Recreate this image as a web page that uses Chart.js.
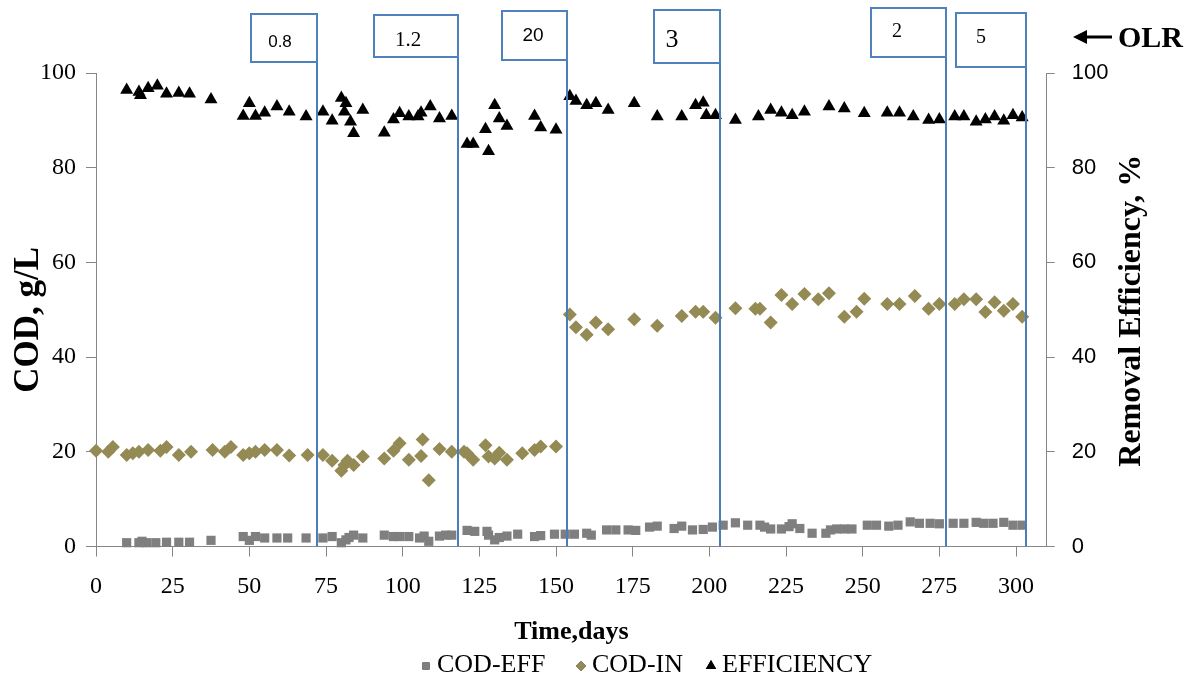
<!DOCTYPE html>
<html>
<head>
<meta charset="utf-8">
<script src="https://cdn.jsdelivr.net/npm/chart.js@4.4.1/dist/chart.umd.min.js"></script>
<style>
  html, body { margin: 0; padding: 0; background: #fff; }
  #wrap { width: 1188px; height: 684px; }
</style>
</head>
<body>
<div id="wrap"><canvas id="codChart" width="1188" height="684"></canvas></div>
<script>
// COD effluent, g/L
const effDays = [10, 14, 15, 16.5, 19.5, 23, 27, 30.5, 37.5, 48, 50, 52, 55, 59, 62.5, 68.5, 74, 77, 80, 81.5, 82.5, 84, 87, 94, 97, 99, 102, 105.5, 107, 108.5, 112, 114, 116, 121, 123.5, 127.5, 128, 130, 131.5, 134, 137.5, 143, 145, 149.5, 153, 156, 160, 161.5, 166.5, 169.5, 173.5, 176, 180.5, 183, 188.5, 191, 194.5, 198, 201, 204.5, 208.5, 212.5, 216.5, 218, 220, 223.5, 226, 227, 229.5, 233.5, 238, 239.5, 241.5, 244, 246.5, 251.5, 254.5, 258.5, 261.5, 265.5, 268.5, 272, 275, 279.5, 283, 287, 289.5, 292.5, 296, 299, 302];
const effCOD = [0.8, 0.8, 1.1, 0.8, 0.8, 0.9, 0.9, 0.9, 1.3, 2.1, 1.3, 2.1, 1.8, 1.8, 1.8, 1.8, 1.8, 2.1, 0.8, 1.4, 1.9, 2.4, 1.8, 2.4, 2.1, 2.1, 2.1, 1.8, 2.2, 1.1, 2.2, 2.4, 2.4, 3.4, 3.2, 3.2, 2.4, 1.4, 1.9, 2.2, 2.6, 2.1, 2.3, 2.6, 2.6, 2.6, 2.8, 2.4, 3.5, 3.5, 3.5, 3.4, 4.1, 4.3, 3.8, 4.3, 3.5, 3.6, 4.1, 4.5, 5.0, 4.5, 4.5, 4.1, 3.7, 3.7, 4.2, 4.8, 3.8, 2.8, 2.8, 3.5, 3.7, 3.7, 3.7, 4.5, 4.5, 4.3, 4.5, 5.2, 4.9, 4.9, 4.8, 4.9, 4.9, 5.1, 4.9, 4.9, 5.1, 4.5, 4.5];

// COD influent, g/L
const inDays = [0, 4, 5.5, 10, 12, 14, 17, 21, 23, 27, 31, 38, 42, 44, 48, 50, 52, 55, 59, 63, 69, 74, 77, 80, 81, 82, 84, 87, 94, 97, 99, 102, 106, 106.5, 108.5, 112, 116, 120, 121, 123, 127, 128, 130, 131.5, 134, 139, 143, 145, 150, 154.5, 156.5, 160, 163, 167, 175.5, 183, 191, 195.5, 198, 202, 208.5, 215, 216.5, 220, 223.5, 227, 231, 235.5, 239, 244, 248, 250.5, 258, 262, 267, 271.5, 275, 280, 283, 287, 290, 293, 296, 299, 302];
const inCOD = [20.2, 20.0, 21.0, 19.3, 19.7, 20.0, 20.4, 20.2, 21.0, 19.3, 20.0, 20.4, 20.0, 21.0, 19.3, 19.7, 20.0, 20.4, 20.4, 19.2, 19.3, 19.3, 18.1, 16.0, 17.2, 18.1, 17.2, 19.0, 18.6, 20.2, 21.8, 18.3, 19.1, 22.6, 14.0, 20.6, 20.0, 20.0, 19.7, 18.3, 21.4, 19.0, 18.6, 19.8, 18.3, 19.7, 20.4, 21.1, 21.1, 49.0, 46.3, 44.7, 47.3, 45.9, 48.0, 46.6, 48.7, 49.6, 49.6, 48.3, 50.3, 50.2, 50.2, 47.3, 53.1, 51.2, 53.3, 52.2, 53.5, 48.5, 49.6, 52.3, 51.2, 51.2, 52.9, 50.2, 51.2, 51.2, 52.2, 52.2, 49.5, 51.6, 49.8, 51.2, 48.5];

// removal efficiency, %
const eDays = [10, 14, 14.5, 17, 20, 23, 27, 30.5, 37.5, 48, 50, 52, 55, 59, 63, 68.5, 74, 77, 80, 81.5, 81, 83, 84, 87, 94, 97, 99, 102, 105, 106, 109, 112, 116, 121, 123, 127, 128, 130, 131.5, 134, 143, 145, 150, 154.5, 156.5, 160, 163, 167, 175.5, 183, 191, 195.5, 198, 199, 202, 208.5, 216, 220, 223.5, 227, 231, 239, 244, 250.5, 258, 262, 266.5, 271.5, 275, 280, 283, 287, 290, 293, 296, 299, 302];
const efficiency = [96.4, 96.0, 95.3, 96.8, 97.3, 95.6, 95.8, 95.6, 94.4, 90.9, 93.6, 90.9, 91.6, 92.9, 91.8, 90.8, 91.8, 89.9, 94.7, 93.6, 91.8, 89.7, 87.3, 92.2, 87.4, 90.2, 91.5, 90.8, 90.8, 91.6, 92.9, 90.4, 90.9, 85.0, 85.0, 88.1, 83.5, 93.2, 90.4, 88.8, 90.9, 88.5, 88.0, 95.1, 94.1, 93.2, 93.6, 92.2, 93.6, 90.8, 90.8, 93.2, 93.7, 91.1, 91.1, 90.1, 90.8, 92.2, 91.6, 91.1, 91.8, 92.9, 92.5, 91.5, 91.6, 91.6, 90.8, 90.1, 90.2, 90.8, 90.8, 89.7, 90.2, 90.8, 89.9, 91.1, 90.6];

// organic loading rate changes
const olrDays = [72.1, 118, 153.6, 203.5, 277.2, 303.3];
const olrLabels = ['0.8', '1.2', '20', '3', '2', '5'];

const seriesNames = ['COD-EFF', 'COD-IN', 'EFFICIENCY'];

function pts(xs, ys) {
  return xs.map((d, i) => ({ x: d, y: ys[i] }));
}

const SERIF = '"Liberation Serif", "Times New Roman", serif';
const SANS = '"Liberation Sans", Arial, sans-serif';

// box look for each OLR label (right edge sits on the line)
const boxStyle = [
  { w: 66, top: 14, h: 48, lineTop: 62, dx: 29, ty: 42, font: '17px ' + SANS },
  { w: 84, top: 15, h: 42, lineTop: 43, dx: 34, ty: 40, font: '21px ' + SERIF },
  { w: 65, top: 11, h: 49, lineTop: 60, dx: 31, ty: 36, font: '19px ' + SANS },
  { w: 66, top: 10, h: 53, lineTop: 63, dx: 18, ty: 40, font: '26px ' + SERIF },
  { w: 75, top: 8, h: 49, lineTop: 57, dx: 26, ty: 32, font: '20px ' + SERIF },
  { w: 70, top: 13, h: 54, lineTop: 43, dx: 25, ty: 38, font: '20px ' + SERIF }
];

const olrPlugin = {
  id: 'olr',
  afterDatasetsDraw(chart) {
    const ctx = chart.ctx;
    const xs = chart.scales.x;
    const bottom = chart.chartArea.bottom;
    ctx.save();
    olrDays.forEach((d, i) => {
      const s = boxStyle[i];
      const x = Math.round(xs.getPixelForValue(d));
      ctx.strokeStyle = '#4a7ebb';
      ctx.lineWidth = 2;
      ctx.beginPath();
      ctx.moveTo(x, s.lineTop);
      ctx.lineTo(x, bottom);
      ctx.stroke();
      ctx.fillStyle = '#fff';
      ctx.fillRect(x - s.w, s.top, s.w, s.h);
      ctx.strokeStyle = '#4f81bd';
      ctx.strokeRect(x - s.w, s.top, s.w, s.h);
      ctx.fillStyle = '#000';
      ctx.font = s.font;
      ctx.textAlign = 'center';
      ctx.textBaseline = 'middle';
      ctx.fillText(olrLabels[i], x - s.w + s.dx, s.ty);
    });

    // OLR arrow
    ctx.fillStyle = '#000';
    ctx.strokeStyle = '#000';
    ctx.lineWidth = 3;
    ctx.beginPath();
    ctx.moveTo(1084, 37);
    ctx.lineTo(1112, 37);
    ctx.stroke();
    ctx.beginPath();
    ctx.moveTo(1073, 37);
    ctx.lineTo(1087, 30);
    ctx.lineTo(1087, 44);
    ctx.closePath();
    ctx.fill();
    ctx.font = 'bold 30px ' + SERIF;
    ctx.textAlign = 'left';
    ctx.textBaseline = 'alphabetic';
    ctx.fillText('OLR', 1118, 47);
    ctx.restore();
  },
  afterDraw(chart) {
    const ctx = chart.ctx;
    const area = chart.chartArea;
    const midY = (area.top + area.bottom) / 2;
    ctx.save();
    ctx.fillStyle = '#000';
    ctx.textAlign = 'center';
    ctx.textBaseline = 'middle';

    ctx.save();
    ctx.translate(29, midY + 10);
    ctx.rotate(-Math.PI / 2);
    ctx.font = 'bold 35px ' + SERIF;
    ctx.fillText('COD, g/L', 0, 0);
    ctx.restore();

    ctx.save();
    ctx.translate(1132, midY + 1);
    ctx.rotate(-Math.PI / 2);
    ctx.font = 'bold 32px ' + SERIF;
    ctx.fillText('Removal Efficiency, %', 0, 0);
    ctx.restore();

    // legend
    const legendX = [426, 581, 711];
    const legendY = 665;
    ctx.font = '26px ' + SERIF;
    ctx.textAlign = 'left';
    chart.data.datasets.forEach((ds, i) => {
      Chart.helpers.drawPoint(ctx, {
        pointStyle: ds.pointStyle,
        radius: ds.pointStyle === 'triangle' ? 6 : 5,
        rotation: 0,
        borderWidth: 0
      }, legendX[i], legendY + 1);
      ctx.fillStyle = ds.backgroundColor;
      ctx.fill();
      ctx.fillStyle = '#000';
      ctx.fillText(ds.label, legendX[i] + 11, legendY);
    });
    ctx.restore();
  }
};

new Chart(document.getElementById('codChart').getContext('2d'), {
  type: 'scatter',
  data: {
    datasets: [
      {
        label: seriesNames[0],
        data: pts(effDays, effCOD),
        pointStyle: 'rect',
        pointRadius: 6.5,
        backgroundColor: '#7f7f7f',
        borderWidth: 0,
        yAxisID: 'y',
        clip: false
      },
      {
        label: seriesNames[1],
        data: pts(inDays, inCOD),
        pointStyle: 'rectRot',
        pointRadius: 7,
        backgroundColor: '#948a54',
        borderWidth: 0,
        yAxisID: 'y',
        clip: false
      },
      {
        label: seriesNames[2],
        data: pts(eDays, efficiency),
        pointStyle: 'triangle',
        pointRadius: 7.5,
        backgroundColor: '#000000',
        borderWidth: 0,
        yAxisID: 'y2',
        clip: false
      }
    ]
  },
  options: {
    responsive: false,
    animation: false,
    layout: { padding: { top: 73, left: 0, right: 0, bottom: 0 } },
    plugins: {
      legend: { display: false },
      tooltip: { enabled: false }
    },
    scales: {
      x: {
        type: 'linear',
        position: 'bottom',
        min: 0,
        max: 310,
        afterFit: s => { s.height = 137.5; },
        afterBuildTicks: s => { s.ticks = s.ticks.filter(t => t.value % 25 === 0); },
        border: { color: '#868686', width: 1 },
        grid: { drawOnChartArea: false, tickLength: 10, color: '#868686' },
        ticks: { stepSize: 25, includeBounds: false, maxRotation: 0, padding: 16, color: '#000', font: { family: SERIF, size: 24 } },
        title: {
          display: true,
          text: 'Time,days',
          color: '#000',
          font: { family: SERIF, size: 26, weight: 'bold' },
          padding: { top: 0, bottom: 36 }
        }
      },
      y: {
        position: 'left',
        min: 0,
        max: 100,
        afterFit: s => { s.width = 96; },
        border: { color: '#868686', width: 1 },
        grid: { drawOnChartArea: false, tickLength: 10, color: '#868686' },
        ticks: { stepSize: 20, padding: 10, color: '#000', font: { family: SERIF, size: 24 } }
      },
      y2: {
        position: 'right',
        min: 0,
        max: 100,
        afterFit: s => { s.width = 141.3; },
        border: { color: '#868686', width: 1 },
        grid: { drawOnChartArea: false, tickLength: 8, color: '#868686' },
        ticks: { stepSize: 20, padding: 17, color: '#000', font: { family: SANS, size: 22 } }
      }
    }
  },
  plugins: [olrPlugin]
});
</script>
</body>
</html>
